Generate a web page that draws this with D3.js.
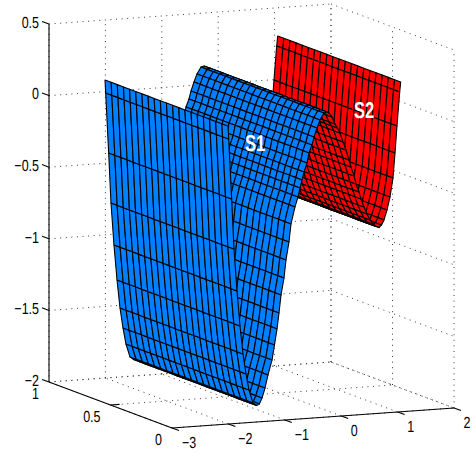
<!DOCTYPE html>
<html>
<head>
<meta charset="utf-8">
<script src="https://d3js.org/d3.v7.min.js"></script>
<style>
body { margin: 0; background: #fff; }
text { font-family: "Liberation Sans", Arial, sans-serif; text-rendering: geometricPrecision; }
</style>
</head>
<body>
<div id="chart"></div>
<script>
// tick values
var xTicks = [-3, -2, -1, 0, 1, 2];
var yTicks = [0, 0.5, 1];
var zTicks = [-2, -1.5, -1, -0.5, 0, 0.5];

// mesh lines along y
var yGrid = [0, 0.05, 0.1, 0.15, 0.2, 0.25, 0.3, 0.35, 0.4, 0.45, 0.5,
    0.55, 0.6, 0.65, 0.7, 0.75, 0.8, 0.85, 0.9, 0.95, 1];

// S1 profile
var s1X = [-2.007, -1.995, -1.942, -1.901, -1.848, -1.794, -1.741, -1.688, -1.635, -1.564, -1.50,
    -1.45, -1.404, -1.351, -1.298, -1.227, -1.183, -1.138, -1.103, -1.067, -1.014, -0.979, -0.926, -0.890,
    -0.819, -0.766, -0.730, -0.695, -0.660, -0.606, -0.571, -0.518, -0.482, -0.429, -0.376, -0.305, -0.25];
var s1Z = [0.081, -0.010, -0.430, -0.781, -1.075, -1.321, -1.518, -1.659, -1.773, -1.865, -1.885,
    -1.875, -1.835, -1.767, -1.677, -1.575, -1.471, -1.360, -1.250, -1.125, -1.008, -0.883, -0.759, -0.634,
    -0.517, -0.449, -0.388, -0.332, -0.278, -0.216, -0.147, -0.093, -0.038, 0.023, 0.078, 0.124, 0.13];

// S2 profile
var s2X = [-0.25, -0.216, -0.163, -0.110, -0.066, -0.021, 0.032, 0.085, 0.138, 0.174, 0.227, 0.262, 0.316,
    0.351, 0.404, 0.457, 0.511, 0.564, 0.617, 0.670, 0.715, 0.759, 0.812, 0.865, 0.918, 0.954, 0.989, 1.037, 1.055];
var s2Z = [0.13, 0.122, 0.093, 0.042, 0.013, -0.023, -0.087, -0.145, -0.216, -0.266, -0.330, -0.387, -0.445,
    -0.494, -0.552, -0.602, -0.645, -0.675, -0.694, -0.703, -0.686, -0.652, -0.584, -0.495, -0.364, -0.190, -0.003, 0.234, 0.303];

var width = 474, height = 454;

var svg = d3.select("#chart").append("svg")
    .attr("width", width)
    .attr("height", height);

// oblique view: each data axis gets its own pixel offsets
var xToPx = d3.scaleLinear().domain([-3, 2]).range([49, 331]);
var xToPy = d3.scaleLinear().domain([-3, 2]).range([0, -20]);
var yToPx = d3.scaleLinear().domain([1, 0]).range([0, 123]);
var yToPy = d3.scaleLinear().domain([1, 0]).range([0, 46]);
var zToPy = d3.scaleLinear().domain([-2, 0.5]).range([382, 24]);

function project(x, y, z) {
    return [xToPx(x) + yToPx(y), zToPy(z) + xToPy(x) + yToPy(y)];
}

var line = d3.line();

function gridLine(a, b) {
    svg.append("path")
        .attr("d", line([a, b]))
        .attr("fill", "none")
        .attr("stroke", "#3a3a3a")
        .attr("stroke-width", 1)
        .attr("stroke-dasharray", "1 4.6");
}

// grid on the back wall, side wall and floor
var x0 = xTicks[0], x1 = xTicks[xTicks.length - 1];
var z0 = zTicks[0], z1 = zTicks[zTicks.length - 1];

xTicks.forEach(function(x) {
    gridLine(project(x, 1, z0), project(x, 1, z1));
    gridLine(project(x, 0, z0), project(x, 1, z0));
});
yTicks.forEach(function(y) {
    gridLine(project(x1, y, z0), project(x1, y, z1));
    gridLine(project(x0, y, z0), project(x1, y, z0));
});
zTicks.forEach(function(z) {
    gridLine(project(x0, 1, z), project(x1, 1, z));
    gridLine(project(x1, 1, z), project(x1, 0, z));
});

// surface cells, far ones first so nearer ones cover them
function drawSurface(xs, zs, color) {
    var g = svg.append("g")
        .attr("fill", color)
        .attr("stroke", "#000")
        .attr("stroke-width", 1.1)
        .attr("stroke-linejoin", "round");
    for (var i = xs.length - 2; i >= 0; i--) {
        for (var j = yGrid.length - 2; j >= 0; j--) {
            g.append("path").attr("d", line([
                project(xs[i], yGrid[j], zs[i]),
                project(xs[i + 1], yGrid[j], zs[i + 1]),
                project(xs[i + 1], yGrid[j + 1], zs[i + 1]),
                project(xs[i], yGrid[j + 1], zs[i])
            ]) + "Z");
        }
    }
}

drawSurface(s2X, s2Z, "#ff0000");
drawSurface(s1X, s1Z, "#0080ff");

// axes
function axisLine(a, b) {
    svg.append("path")
        .attr("d", line([a, b]))
        .attr("fill", "none")
        .attr("stroke", "#000")
        .attr("stroke-width", 1.1);
}

axisLine(project(x0, 1, z0), project(x0, 1, z1));
axisLine(project(x0, 1, z0), project(x0, 0, z0));
axisLine(project(x0, 0, z0), project(x1, 0, z0));

// the reference is squeezed sideways, so the labels are too
function label(text, px, py, anchor) {
    svg.append("text")
        .attr("transform", "translate(" + px + "," + py + ") scale(0.78,1)")
        .attr("text-anchor", anchor)
        .attr("dy", "0.36em")
        .attr("font-size", 16)
        .attr("fill", "#000")
        .text(text);
}

function fmt(v) {
    return String(v).replace("-", "\u2212");
}

zTicks.forEach(function(z) {
    var p = project(x0, 1, z);
    axisLine(p, [p[0] - 7, p[1] - 2.6]);
    label(fmt(z), p[0] - 10, p[1] - 2, "end");
});
yTicks.forEach(function(y) {
    var p = project(x0, y, z0);
    if (y < 1 && y > 0) axisLine(p, [p[0] + 9, p[1] - 0.6]);
    label(fmt(y), p[0] - 10, p[1] + 11.5, "end");
});
xTicks.forEach(function(x) {
    var p = project(x, 0, z0);
    axisLine(p, [p[0] + 7, p[1] + 2.6]);
    label(fmt(x), p[0] + (x < 0 ? 17 : 13), p[1] + 14, "middle");
});

// surface names
function surfaceName(text, px, py) {
    svg.append("text")
        .attr("transform", "translate(" + px + "," + py + ") scale(0.72,1)")
        .attr("text-anchor", "middle")
        .attr("dy", "0.36em")
        .attr("font-size", 23)
        .attr("font-weight", "bold")
        .attr("fill", "#fff")
        .text(text);
}
surfaceName("S1", 255, 143);
surfaceName("S2", 364, 110);
</script>
</body>
</html>
